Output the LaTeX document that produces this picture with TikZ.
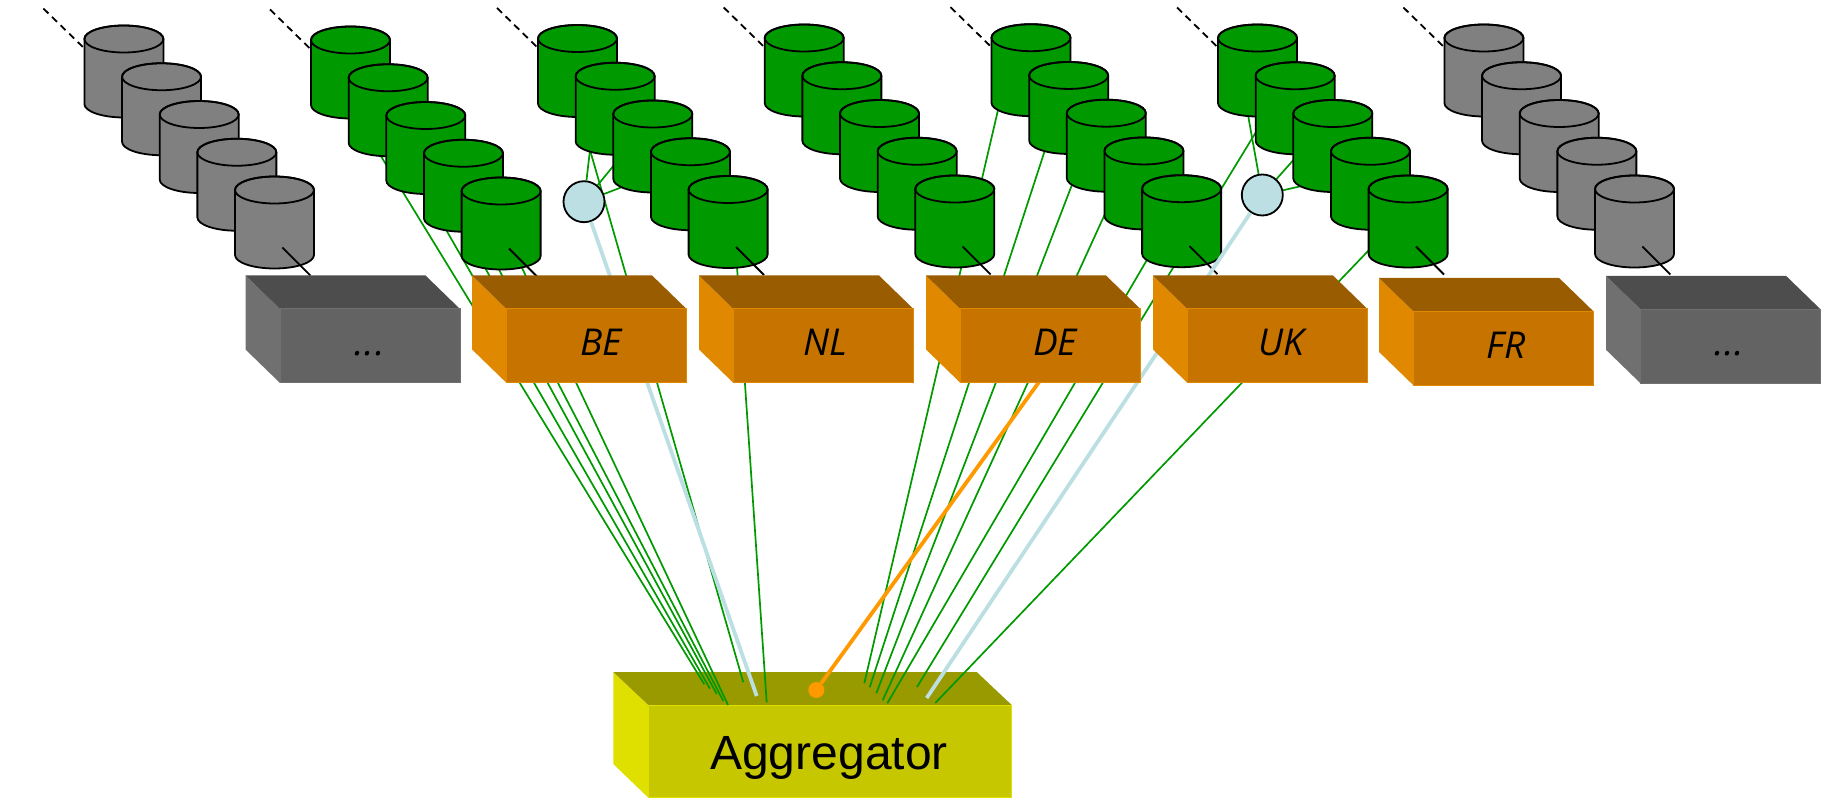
\documentclass[tikz,border=0pt]{standalone}
\usepackage{fontspec}
\setmainfont{Liberation Sans}
\newfontfamily\tagfont{Open Sans}
\usetikzlibrary{backgrounds}
\definecolor{drumgreen}{HTML}{009900}
\definecolor{drumgray}{HTML}{808080}
\definecolor{crateor}{HTML}{C67300}
\definecolor{crateorl}{HTML}{E08800}
\definecolor{crateort}{HTML}{995C00}
\definecolor{crategr}{HTML}{636363}
\definecolor{crategrl}{HTML}{707070}
\definecolor{crategrt}{HTML}{4D4D4D}
\definecolor{crateye}{HTML}{C7C700}
\definecolor{crateyel}{HTML}{E0E000}
\definecolor{crateyet}{HTML}{999900}
\definecolor{iceblue}{HTML}{BBDFE3}
\definecolor{hotline}{HTML}{FF9900}
\tikzset{
	drumline/.style={draw=black,line width=1.8pt},
	crate/.style={rectangle,minimum width=180pt,minimum height=74pt,inner sep=0pt,fill=#1},
	link/.style={draw=drumgreen,line width=1.7pt},
	icelink/.style={draw=iceblue,line width=3.8pt},
	fault/.style={circle,draw=black,fill=iceblue,line width=1.8pt,minimum size=41pt,inner sep=0pt},
	tag/.style={anchor=base,font=\tagfont\itshape\fontsize{37}{40}\selectfont}
}
% one drum: colour, centre, name
\def\drumat[#1](#2,#3)#4{
	\node[minimum width=79pt,minimum height=92pt,inner sep=0pt] (#4) at (#2,#3) {};
	\filldraw[drumline,fill=#1] (#2-39.5,#3-32.5) -- (#2-39.5,#3+32.5)
		.. controls (#2-39.5,#3+40) and (#2-21.8,#3+46) .. (#2,#3+46)
		.. controls (#2+21.8,#3+46) and (#2+39.5,#3+40) .. (#2+39.5,#3+32.5)
		-- (#2+39.5,#3-32.5)
		.. controls (#2+39.5,#3-40) and (#2+21.8,#3-46) .. (#2,#3-46)
		.. controls (#2-21.8,#3-46) and (#2-39.5,#3-40) .. (#2-39.5,#3-32.5) -- cycle;
	\draw[drumline] (#2,#3-32.5) ellipse (39.5 and 13.5);
}
% one row of five drums: colour, left edge and top edge of the first one, name
\def\drumrow[#1](#2,#3)#4{
	\draw[line width=1.8pt,dash pattern=on 7pt off 5pt] (#2-41,#3-17) -- (#2,#3+23);
	\drumat[#1](#2+39.5,#3+46){#41}
	\drumat[#1](#2+77.15,#3+83.75){#42}
	\drumat[#1](#2+114.8,#3+121.5){#43}
	\drumat[#1](#2+152.45,#3+159.25){#44}
	\drumat[#1](#2+190.1,#3+197){#45}
	\draw[line width=1.8pt] (#2+198,#3+222) -- (#2+226,#3+250);
}
% a box: colour suffix, centre of the front face, name
\def\cratebox[#1](#2,#3)#4{
	\fill[crate#1l] (#2-90,#3-37) -- ++(-34.5,-33.5) -- ++(0,74) -- (#2-90,#3+37) -- cycle;
	\fill[crate#1t] (#2-90,#3-37) -- ++(-34.5,-33.5) -- ++(180,0) -- (#2+90,#3-37) -- cycle;
	\node[crate=crate#1,draw=crate#1l,line width=1pt] (#4) at (#2,#3) {};
}
\begin{document}
\begin{tikzpicture}[x=1pt,y=-1pt]
	\useasboundingbox (0,0) rectangle (1829,799);

	%%%%% rows %%%%%
	\drumrow[drumgray](84.4,25.5){xl}
	\drumrow[drumgreen](311,26.5){be}
	\drumrow[drumgreen](538,25){nl}
	\drumrow[drumgreen](764.7,24.5){de}
	\drumrow[drumgreen](991.5,24.2){uk}
	\drumrow[drumgreen](1218,24.5){fr}
	\drumrow[drumgray](1444.4,24.5){xr}

	\node[fault] (nlfail) at (584,201.7) {};
	\node[fault] (frfail) at (1262.3,195) {};

	%%%%% aggregator and links, all behind the rows %%%%%
	\begin{scope}[on background layer]
	\fill[crateyel] (648.3,705) -- (613.3,672) -- (613.3,764) -- (648.3,797.7) -- cycle;
	\fill[crateyet] (648.3,705) -- (613.3,672) -- (976.7,672) -- (1011.7,705) -- cycle;
	\node[rectangle,minimum width=363.4pt,minimum height=92.7pt,inner sep=0pt,fill=crateye,
		draw=crateyel,line width=1pt] (agg) at (830,751.35) {};
	\node[anchor=base,font=\fontsize{48}{50}\selectfont] (aggtxt) at (829,769) {Aggregator};

	\coordinate (a1) at (704.3,684.3);
	\coordinate (a2) at (710,688.7);
	\coordinate (a3) at (716.7,694);
	\coordinate (a4) at (723.3,701);
	\coordinate (a5) at (728,705);
	\coordinate (a6) at (743.3,682.3);
	\coordinate (a7) at (756.7,696);
	\coordinate (a8) at (766.7,702.3);
	\coordinate (a9) at (864.3,683.3);
	\coordinate (a10) at (869.7,687.3);
	\coordinate (a11) at (876.3,693.3);
	\coordinate (a12) at (882.7,700.3);
	\coordinate (a13) at (887.3,703.3);
	\coordinate (a14) at (917,687);
	\coordinate (a15) at (926.7,698);
	\coordinate (a16) at (935.3,703);
	\coordinate (hot) at (1060,353);

	\draw[link] ([shift={(-9.15,42.75)}]be2.center) -- (a1);
	\draw[link] ([shift={(-18.45,42.25)}]be4.center) -- (a2);
	\draw[link] ([shift={(-31.1,16.5)}]be5.center) -- (a3);
	\draw[link] ([shift={(-17.5,16.5)}]be5.center) -- (a4);
	\draw[link] (be5.center) -- (a5);
	\draw[link] ([shift={(-25.15,41.25)}]nl2.center) -- (a6);
	\draw[link] ([shift={(8.9,45)}]nl5.center) -- (a8);
	\draw[link] ([shift={(-33,39.8)}]uk1.center) -- (a9);
	\draw[link] ([shift={(-23.65,42.05)}]uk2.center) -- (a10);
	\draw[link] ([shift={(-34.4,39.3)}]uk3.center) -- (a11);
	\draw[link] ([shift={(-39.45,31.55)}]uk4.center) -- (a12);
	\draw[link] ([shift={(-34.7,38.8)}]uk5.center) -- (a13);
	\draw[link] ([shift={(-39.15,23.75)}]fr2.center) -- (a14);
	\draw[link] ([shift={(-39.1,28.5)}]fr5.center) -- (a16);
	\draw[link] ([shift={(-25.15,41.25)}]nl2.center) -- (nlfail);
	\draw[link] ([shift={(-37.8,17.5)}]nl3.center) -- (nlfail);
	\draw[link] ([shift={(-29.8,40.2)}]nl3.center) -- (nlfail);
	\draw[link] ([shift={(-9.5,44.5)}]fr1.center) -- (frfail);
	\draw[link] ([shift={(-38.8,13.3)}]fr3.center) -- (frfail);
	\draw[link] ([shift={(-31.1,40)}]fr3.center) -- (frfail);

	\node[circle,fill=hotline,minimum size=16pt,inner sep=0pt] (dot) at (816.3,690) {};
	\draw[draw=hotline,line width=3.8pt] (dot) -- (hot);
	\end{scope}

	\draw[icelink] (nlfail) -- (a7);
	\draw[icelink] (frfail) -- (a15);

	%%%%% boxes %%%%%
	\cratebox[gr](370,346){xlbox}
	\cratebox[or](596.6,346){bebox}
	\cratebox[or](823.5,346){nlbox}
	\cratebox[or](1050.5,346){debox}
	\cratebox[or](1277.5,346){ukbox}
	\cratebox[or](1503.6,348.5){frbox}
	\cratebox[gr](1730.7,346.5){xrbox}

	\node[tag] (xltxt) at (369.6,356) {.\kern1pt.\kern1pt.};
	\node[tag] (betxt) at (600.9,356) {BE};
	\node[tag] (nltxt) at (825.4,356) {NL};
	\node[tag] (detxt) at (1055,356) {DE};
	\node[tag] (uktxt) at (1281,356) {UK};
	\node[tag] (frtxt) at (1506.3,358.5) {FR};
	\node[tag] (xrtxt) at (1729,356) {.\kern1pt.\kern1pt.};
\end{tikzpicture}
\end{document}
